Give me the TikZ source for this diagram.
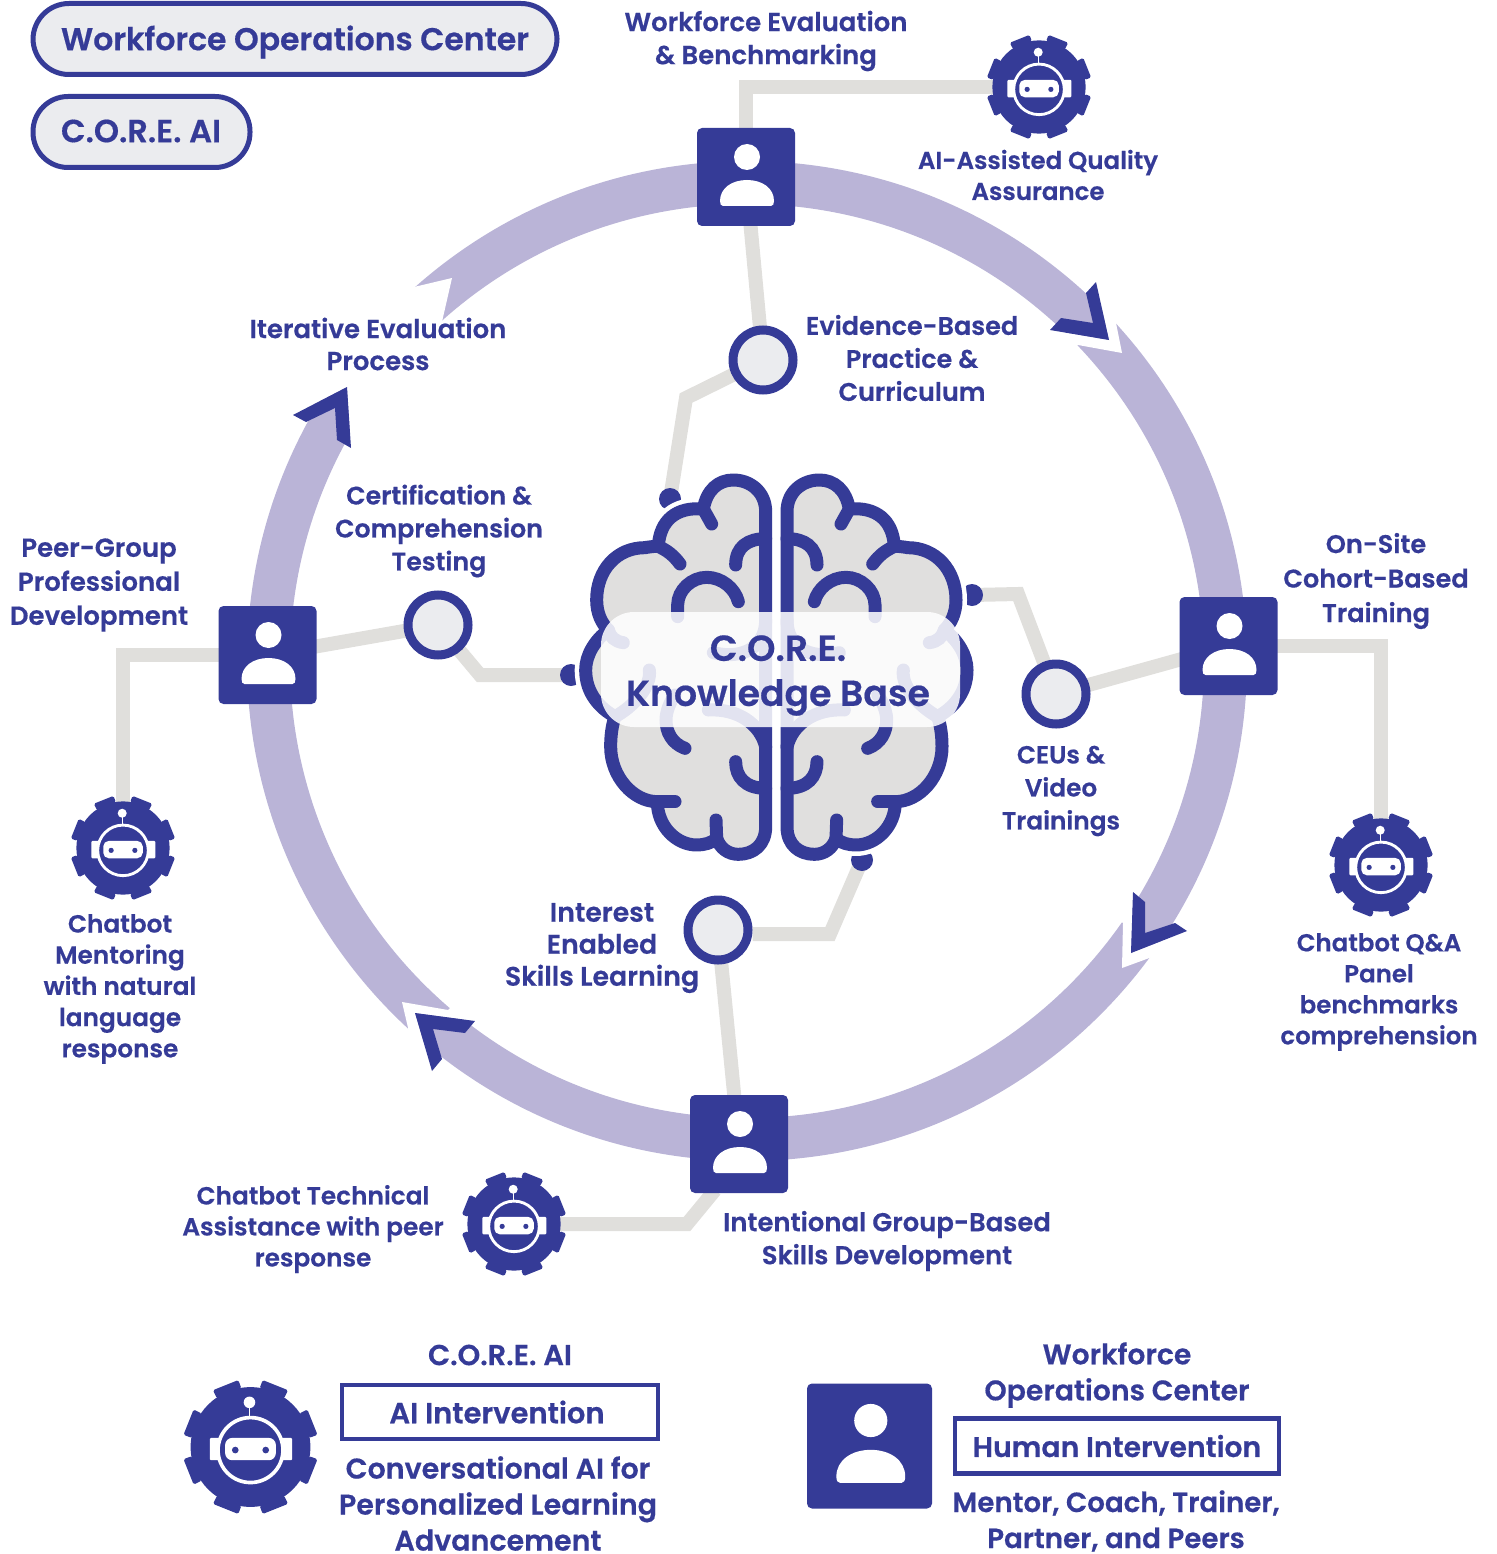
\documentclass[tikz,border=0pt]{standalone}
\usepackage{fontspec}
\setmainfont{Poppins SemiBold}[FakeBold=0.5]
\usetikzlibrary{backgrounds}
\definecolor{navy}{HTML}{353B97}
\definecolor{ringc}{HTML}{BAB4D7}
\definecolor{linkc}{HTML}{E0DFDC}
\definecolor{brainc}{HTML}{E0DFDE}
\definecolor{paper}{HTML}{EBECEF}
\newcommand{\fs}[2]{\fontsize{#1}{#2}\selectfont}
\newcommand{\robotIcon}[2]{%
\begin{scope}[shift={(#1)},scale=#2]
\fill[navy] (0,0) circle (59);
\fill[navy,rounded corners=1.6pt] (9,-57.8) -- (12,-66) -- (37,-56) -- (33,-48) -- cycle
 (-9,-57.8) -- (-12,-66) -- (-37,-56) -- (-33,-48) -- cycle
 (9,57.8) -- (12,66) -- (37,56) -- (33,48) -- cycle
 (-9,57.8) -- (-12,66) -- (-37,56) -- (-33,48) -- cycle
 (57.8,-9) -- (66,-12) -- (56,-37) -- (48,-33) -- cycle
 (-57.8,-9) -- (-66,-12) -- (-56,-37) -- (-48,-33) -- cycle
 (57.8,9) -- (66,12) -- (56,37) -- (48,33) -- cycle
 (-57.8,9) -- (-66,12) -- (-56,37) -- (-48,33) -- cycle;
\fill[white,rounded corners=1pt] (-40,-9) rectangle (41,13);
\draw[white,line width=#2*1.6pt] (-1,-30) -- (-1,-42);
\fill[white] (-1,-44) circle (5.7);
\draw[white,fill=navy,line width=#2*3.6pt] (0,3) circle (32);
\fill[white,rounded corners=#2*7pt] (-25,-9) rectangle (25,13);
\fill[navy] (-15,3) circle (3.3) (15,3) circle (3.3);
\end{scope}}
\newcommand{\personIcon}[2]{%
\begin{scope}[shift={(#1)},scale=#2]
\fill[white] (1,-20) circle (13);
\fill[white] (-23,29) -- (25,29) .. controls (27,29) and (28,27) .. (28,24) .. controls (28,11) and (16,3) .. (1,3) .. controls (-14,3) and (-26,11) .. (-26,24) .. controls (-26,27) and (-25,29) .. (-23,29) -- cycle;
\end{scope}}
\newcommand{\brainOutline}{(587,1100) -- (587,155) .. controls (587,95) and (540,60) .. (490,60) .. controls (445,60) and (410,90) .. (400,147) .. controls (320,140) and (270,180) .. (265,258) .. controls (225,262) and (225,263) .. (225,263) .. controls (140,263) and (80,330) .. (80,420) .. controls (80,460) and (95,490) .. (115,510) .. controls (75,540) and (47,585) .. (47,630) .. controls (47,700) and (90,745) .. (135,770) .. controls (125,800) and (122,830) .. (122,860) .. controls (122,950) and (190,1025) .. (262,1025) .. controls (262,1100) and (320,1155) .. (380,1155) .. controls (400,1155) and (425,1150) .. (440,1135) .. controls (450,1165) and (475,1183) .. (505,1183) .. controls (550,1183) and (587,1155) .. (587,1100) -- cycle}
\newcommand{\brainFolds}{%
\draw[navy,line width=13pt,line cap=round,line join=round] (425,192) -- (400,147);
\draw[navy,line width=13pt,line cap=round] (330,312) .. controls (310,285) and (290,270) .. (262,258);
\draw[navy,line width=13pt,line cap=round] (587,236) .. controls (535,236) and (497,260) .. (497,315);
\draw[navy,line width=13pt,line cap=round] (323,470) -- (323,435) .. controls (323,390) and (365,352) .. (410,352) .. controls (455,352) and (495,385) .. (505,425);
\draw[navy,line width=13pt,line cap=round] (160,548) .. controls (135,545) and (120,530) .. (115,510);
\draw[navy,line width=13pt,line cap=round] (238,630) .. controls (245,680) and (190,740) .. (135,770);
\draw[navy,line width=13pt,line cap=round] (345,865) .. controls (305,850) and (288,815) .. (288,780) .. controls (288,755) and (300,725) .. (315,705);
\draw[navy,line width=13pt,line cap=round] (415,750) .. controls (500,745) and (570,790) .. (587,860);
\draw[navy,line width=13pt,line cap=round] (430,578) .. controls (520,600) and (587,560) .. (587,480);
\draw[navy,line width=13pt,line cap=round] (497,905) .. controls (497,950) and (525,985) .. (587,985);
\draw[navy,line width=13pt,line cap=round] (438,1080) -- (440,1135);
\draw[navy,line width=13pt,line cap=round] (262,1025) -- (315,1025);}
\tikzset{
 lbl/.style={text=navy,align=center,inner sep=0pt},
 pbox/.style={fill=navy,rounded corners=5pt,minimum width=98pt,minimum height=98pt,inner sep=0pt},
 hub/.style={circle,draw=navy,fill=paper,line width=9pt,minimum size=60pt,inner sep=0pt},
 rob/.style={circle,minimum size=104pt,inner sep=0pt},
 dotn/.style={circle,fill=navy,minimum size=22pt,inner sep=0pt},
 link/.style={draw=linkc,line width=14pt,line join=miter},
 pillb/.style={draw=navy,fill=paper,line width=5pt,inner sep=0pt},
 framed/.style={draw=navy,fill=white,line width=4.5pt,text=navy,inner sep=0pt},
 chev/.style={fill=navy},
 gapw/.style={fill=white}
}
\begin{document}
\begin{tikzpicture}[x=1pt,y=-1pt]
\useasboundingbox (0,0) rectangle (1496,1554);
\coordinate (c) at (747,661);
% nodes
\node[dotn] (dotE) at (670,499) {};
\node[dotn] (dotC) at (972,595) {};
\node[dotn] (dotT) at (571,675) {};
\node[dotn] (dotI) at (862,860) {};
% brain
\begin{scope}[shift={(570,460)},x=1pt/3,y=-1pt/3]
\draw[white,line width=22pt,line join=round] \brainOutline;
\filldraw[draw=navy,fill=brainc,line width=13pt,line join=round] \brainOutline;
\brainFolds
\end{scope}
\begin{scope}[shift={(982.67,460)},x=-1pt/3,y=-1pt/3]
\draw[white,line width=22pt,line join=round] \brainOutline;
\filldraw[draw=navy,fill=brainc,line width=13pt,line join=round] \brainOutline;
\brainFolds
\end{scope}
\fill[white,fill opacity=.86,rounded corners=33pt] (601,612) rectangle (960,727);
\node[lbl,font=\fs{36.2}{45}] (core) at (778,675.5) {C.O.R.E.\\Knowledge Base};
% person boxes
\node[pbox] (boxT) at (746,177) {};
\node[pbox] (boxR) at (1228.5,646) {};
\node[pbox] (boxL) at (267.5,655) {};
\node[pbox] (boxB) at (739,1144) {};
\node[pbox,minimum width=125pt,minimum height=125pt] (boxK) at (869.5,1446) {};
\personIcon{boxT}{1}\personIcon{boxR}{1}\personIcon{boxL}{1}\personIcon{boxB}{1}\personIcon{boxK}{1.275}
% hubs
\node[hub] (hubE) at (763,360) {};
\node[hub] (hubC) at (1056,694) {};
\node[hub] (hubT) at (438,625) {};
\node[hub] (hubI) at (718,930) {};
% robots
\node[rob] (robT) at (1039,87) {};
\node[rob] (robR) at (1381,865) {};
\node[rob] (robL) at (123,848) {};
\node[rob] (robB) at (514,1224) {};
\node[rob,minimum size=134pt] (robK) at (250.5,1447) {};
\robotIcon{robT}{.79}\robotIcon{robR}{.79}\robotIcon{robL}{.79}\robotIcon{robB}{.79}\robotIcon{robK}{1.015}
% bends
\coordinate (bE) at (686,398);
\coordinate (bC) at (1018,594);
\coordinate (bT) at (480,675);
\coordinate (bI) at (830,934);
\coordinate (bB) at (687,1224);
\coordinate (tapB) at (715,1190);
\begin{pgfonlayer}{background}
\fill[ringc,even odd rule] (c) circle (500) (c) circle (457);
\fill[gapw] (1096,282) -- (1109,340) -- (1050,330) -- (1040,370) -- (1078,345) -- (1122,353) -- (1116,323) -- (1150,300) -- cycle;
\fill[gapw] (1133,892) -- (1131,953) -- (1187,931) -- (1210,960) -- (1152,957) -- (1122,968) -- (1123,923) -- (1090,900) -- cycle;
\fill[gapw] (475,1021) -- (415,1013) -- (432,1071) -- (410,1080) -- (409,1032) -- (402,1002) -- (448,1010) -- (470,990) -- cycle;
\fill[gapw] (293,415) -- (347,387) -- (351,448) -- (380,440) -- (436,348) -- (444,313) -- (452,278) -- (414,287) -- (370,300) -- cycle;
\fill[chev] (1096,282) -- (1086,293) -- (1093,323) -- (1061,318) -- (1050,330) -- (1109,340) -- cycle;
\fill[chev] (1133,892) -- (1145,902) -- (1145,933) -- (1175,923) -- (1187,931) -- (1131,953) -- cycle;
\fill[chev] (475,1021) -- (465,1033) -- (433,1029) -- (442,1059) -- (432,1071) -- (415,1013) -- cycle;
\fill[chev] (293,415) -- (306,422) -- (335,408) -- (337,440) -- (351,448) -- (347,387) -- cycle;
\draw[link] (boxT.center) |- (robT.center);
\draw[link] (boxT.center) -- (hubE.center) -- (bE) -- (dotE.center);
\draw[link] (boxR.center) -- (hubC.center) -- (bC) -- (dotC.center);
\draw[link] (robR.center) |- (boxR.center);
\draw[link] (boxL.center) -- (hubT.center) -- (bT) -- (dotT.center);
\draw[link] (robL.center) |- (boxL.center);
\draw[link] (boxB.center) -- (hubI.center);
\draw[link] (hubI.east |- bI) -- (bI) -- (dotI.center);
\draw[link] (tapB) -- (bB) -- (robB.center);
\end{pgfonlayer}
% pills and frames
\node[pillb,rounded corners=36pt,minimum width=524pt,minimum height=71pt] (pillA) at (295,39) {};
\node[lbl,font=\fs{31.5}{36}] (pillAt) at (295,42) {Workforce Operations Center};
\node[pillb,rounded corners=35pt,minimum width=217pt,minimum height=71pt] (pillB) at (141.5,132) {};
\node[lbl,font=\fs{32}{36}] (pillBt) at (141,131) {C.O.R.E. AI};
\node[framed,minimum width=316pt,minimum height=54pt,font=\fs{29}{32}] (frA) at (500,1412) {\hspace*{-6pt}AI Intervention};
\node[framed,minimum width=324pt,minimum height=55pt,font=\fs{28.3}{32}] (frB) at (1117,1446) {Human Intervention};
% labels
\node[lbl,font=\fs{26}{33}] (t1) at (766,41) {Workforce Evaluation\\\& Benchmarking};
\node[lbl,font=\fs{24.5}{31}] (t2) at (1038,175) {AI-Assisted Quality\\Assurance};
\node[lbl,font=\fs{25.5}{33}] (t3) at (912,358) {Evidence-Based\\Practice \&\\Curriculum};
\node[lbl,font=\fs{26}{32}] (t4) at (378,344) {Iterative Evaluation\\Process};
\node[lbl,font=\fs{25.3}{33}] (t5) at (439,531) {Certification \&\\Comprehension\\Testing};
\node[lbl,font=\fs{26}{34}] (t6) at (99,585) {Peer-Group\\Professional\\Development};
\node[lbl,font=\fs{25.6}{34.5}] (t7) at (1376,581) {On-Site\\Cohort-Based\\Training};
\node[lbl,font=\fs{24.8}{33}] (t8) at (1061,791) {CEUs \&\\Video\\Trainings};
\node[lbl,font=\fs{26.8}{32}] (t9) at (602,948) {Interest\\Enabled\\Skills Learning};
\node[lbl,font=\fs{24.8}{31.2}] (t10) at (120,989) {Chatbot\\Mentoring\\with natural\\language\\response};
\node[lbl,font=\fs{24.5}{31}] (t11) at (1379,992) {Chatbot Q\&A\\Panel\\benchmarks\\comprehension};
\node[lbl,font=\fs{24.8}{31}] (t12) at (313,1229) {Chatbot Technical\\Assistance with peer\\response};
\node[lbl,font=\fs{25.9}{33}] (t13) at (887,1241) {Intentional Group-Based\\Skills Development};
\node[lbl,font=\fs{28.8}{32}] (t14) at (500,1355) {C.O.R.E. AI};
\node[lbl,font=\fs{28.5}{36}] (t15) at (498,1503.5) {Conversational AI for\\Personalized Learning\\Advancement};
\node[lbl,font=\fs{28.3}{36}] (t16) at (1117,1375) {Workforce\\Operations Center};
\node[lbl,font=\fs{27.7}{36}] (t17) at (1116,1521) {Mentor, Coach, Trainer,\\Partner, and Peers};
\end{tikzpicture}
\end{document}
